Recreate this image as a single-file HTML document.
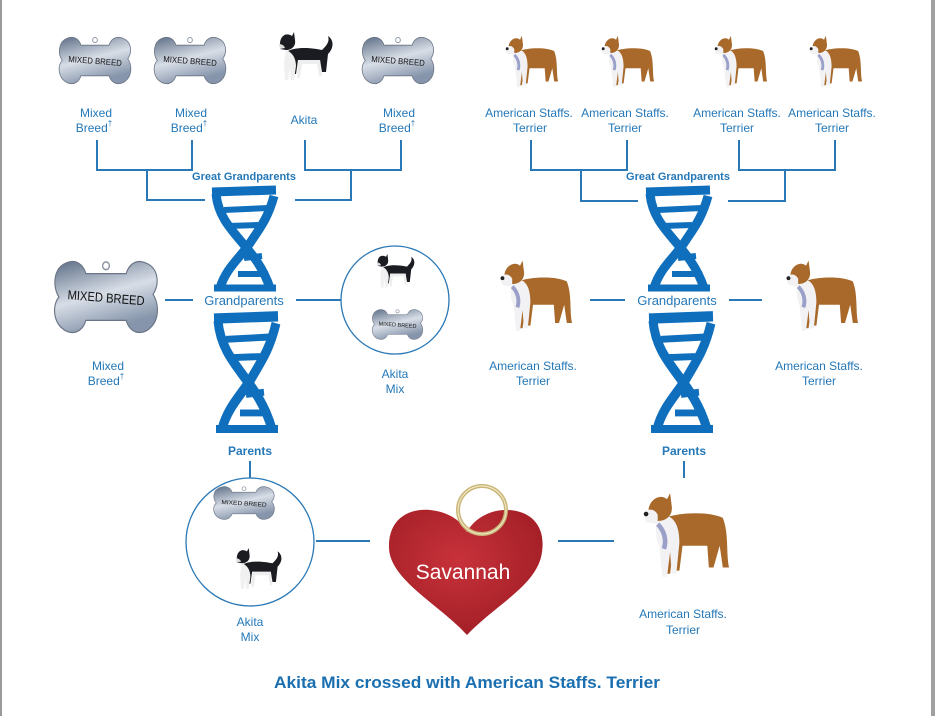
<!DOCTYPE html>
<html><head><meta charset="utf-8"><style>
html,body{margin:0;padding:0;background:#fff;}
svg{display:block;}
text{font-family:"Liberation Sans",sans-serif;}
</style></head><body>
<svg width="935" height="716" viewBox="0 0 935 716" xmlns="http://www.w3.org/2000/svg">
<defs>
<linearGradient id="bg" x1="0" y1="0" x2="0.4" y2="1">
<stop offset="0" stop-color="#5d6e86"/><stop offset="0.55" stop-color="#d8dee7"/><stop offset="1" stop-color="#8695ab"/>
</linearGradient>
<radialGradient id="hg" cx="0.45" cy="0.4" r="0.7">
<stop offset="0" stop-color="#c8323a"/><stop offset="1" stop-color="#9e1c24"/>
</radialGradient>
<g id="bone">
<path d="M14,4 C24,0 30,6 32,12 L68,12 C70,6 76,0 86,4 C97,8 98,20 92,28 C98,36 98,50 86,56 C76,60 70,54 68,48 L32,48 C30,54 24,60 14,56 C2,50 2,36 8,30 C2,22 3,8 14,4 Z" fill="url(#bg)" stroke="#6a7486" stroke-width="1"/>
<circle cx="50" cy="6" r="3" fill="none" stroke="#8a94a4" stroke-width="1.2"/>
<text x="50" y="34" font-size="10" text-anchor="middle" fill="#111" transform="rotate(4 50 32)">MIXED BREED</text>
</g>
<g id="ast">
<path d="M18,18 C30,14 48,14 56,18 C60,28 58,40 60,50 L56,50 L54,36 L50,50 L47,50 L46,36 L30,36 L28,52 L25,52 L24,38 L22,54 L19,54 L18,36 Z" fill="#a8692b"/>
<path d="M16,16 C24,16 28,22 28,34 L26,54 L23,54 L22,40 L20,56 L17,56 L15,36 C12,30 12,22 16,16 Z" fill="#f2f2f4"/>
<path d="M14,22 C18,26 20,32 18,38" stroke="#9aa0c8" stroke-width="3" fill="none"/>
<path d="M8,14 C8,6 16,2 20,6 L22,2 L23,10 C24,16 20,20 14,20 L8,19 Z" fill="#a8692b"/>
<path d="M6,14 C8,12 12,12 14,16 L14,22 L7,21 C5,19 5,16 6,14 Z" fill="#f2f2f4"/>
<circle cx="6.5" cy="15.5" r="1.5" fill="#222"/>
</g>
<g id="akita">
<path d="M14,20 C24,14 40,16 50,18 C54,14 58,10 56,4 C62,8 62,16 56,22 L54,40 L50,40 L48,28 L26,28 L24,42 L20,42 Z" fill="#1a1c22"/>
<path d="M14,18 C20,20 24,26 24,34 L22,48 L19,48 L18,36 L16,48 L13,48 L12,30 Z" fill="#f0f0f0"/>
<path d="M26,28 L48,28 L50,44 L47,44 L45,32 L30,32 L28,46 L25,46 Z" fill="#eee"/>
<path d="M8,12 C8,4 14,0 20,4 L22,0 L23,8 C24,14 20,18 14,18 L8,17 Z" fill="#1a1c22"/>
<path d="M7,12 C9,12 12,13 13,16 L8,17 Z" fill="#ddd"/>
</g>
<g id="dna" fill="none" stroke="#0f6fbd" stroke-linecap="butt">
<path d="M2,4 L66,2" stroke-width="9"/>
<path d="M6,6 C10,45 45,55 60,100" stroke-width="9"/>
<path d="M64,8 C58,30 50,40 40,55 C30,70 16,80 10,100" stroke-width="9"/>
<path d="M14,22 L58,20 M18,38 L48,37 M34,70 L52,68 M28,86 L58,86" stroke-width="6"/>
<path d="M4,100 L66,100" stroke-width="7"/>
</g>
</defs>

<rect x="0" y="0" width="2" height="716" fill="#9a9a9a"/>
<rect x="931" y="0" width="4" height="716" fill="#a0a0a0"/>

<!-- top-left row -->
<use href="#bone" transform="translate(56,35) scale(0.78,0.85)"/>
<use href="#bone" transform="translate(151,35) scale(0.78,0.85)"/>
<use href="#akita" transform="translate(272,32) scale(1.0)"/>
<use href="#bone" transform="translate(359,35) scale(0.78,0.85)"/>

<g font-size="12" fill="#2478b8" text-anchor="middle">
<text x="96" y="117">Mixed</text><text x="94" y="132">Breed<tspan font-size="8" dy="-6">†</tspan></text>
<text x="191" y="117">Mixed</text><text x="189" y="132">Breed<tspan font-size="8" dy="-6">†</tspan></text>
<text x="304" y="124">Akita</text>
<text x="399" y="117">Mixed</text><text x="397" y="132">Breed<tspan font-size="8" dy="-6">†</tspan></text>

<text x="529" y="117">American Staffs.</text><text x="530" y="132">Terrier</text>
<text x="625" y="117">American Staffs.</text><text x="625" y="132">Terrier</text>
<text x="737" y="117">American Staffs.</text><text x="737" y="132">Terrier</text>
<text x="832" y="117">American Staffs.</text><text x="832" y="132">Terrier</text>

<text x="108" y="370">Mixed</text><text x="106" y="385">Breed<tspan font-size="8" dy="-6">†</tspan></text>
<text x="395" y="378">Akita</text><text x="395" y="393">Mix</text>
<text x="533" y="370">American Staffs.</text><text x="533" y="385">Terrier</text>
<text x="819" y="370">American Staffs.</text><text x="819" y="385">Terrier</text>
<text x="250" y="626">Akita</text><text x="250" y="641">Mix</text>
<text x="683" y="618">American Staffs.</text><text x="683" y="634">Terrier</text>
</g>

<!-- top-right dogs -->
<use href="#ast" transform="translate(501,34) scale(0.95)"/>
<use href="#ast" transform="translate(597,34) scale(0.95)"/>
<use href="#ast" transform="translate(710,34) scale(0.95)"/>
<use href="#ast" transform="translate(805,34) scale(0.95)"/>

<!-- connectors -->
<g stroke="#2a78b5" stroke-width="2" fill="none">
<path d="M97,140 V170 H192 V140 M147,170 V200 H205"/>
<path d="M305,140 V170 H401 V140 M351,170 V200 H295"/>
<path d="M531,140 V170 H627 V140 M581,170 V201 H638"/>
<path d="M739,140 V170 H835 V140 M785,170 V201 H728"/>
<path d="M165,300 H193 M296,300 H341"/>
<path d="M590,300 H625 M729,300 H762"/>
<path d="M250,461 V478 M684,461 V478"/>
<path d="M316,541 H370 M558,541 H614"/>
</g>

<g font-size="11" font-weight="bold" fill="#2478b8" text-anchor="middle">
<text x="244" y="180">Great Grandparents</text>
<text x="678" y="180">Great Grandparents</text>
</g>
<g font-size="13" fill="#2478b8" text-anchor="middle">
<text x="244" y="305">Grandparents</text>
<text x="677" y="305">Grandparents</text>
<text x="250" y="455" font-weight="bold" font-size="12">Parents</text>
<text x="684" y="455" font-weight="bold" font-size="12">Parents</text>
</g>

<!-- DNA -->
<use href="#dna" transform="translate(210,188)"/>
<use href="#dna" transform="translate(212,314) scale(1,1.15)"/>
<use href="#dna" transform="translate(644,188)"/>
<use href="#dna" transform="translate(647,314) scale(1,1.15)"/>

<!-- mid-left -->
<use href="#bone" transform="translate(50,258) scale(1.12,1.3)"/>
<circle cx="395" cy="300" r="54" fill="none" stroke="#2a78b5" stroke-width="1.3"/>
<use href="#akita" transform="translate(372,254) scale(0.7)"/>
<use href="#bone" transform="translate(370,308) scale(0.55,0.55)"/>

<!-- mid-right dogs -->
<use href="#ast" transform="translate(494,258) scale(1.3)"/>
<use href="#ast" transform="translate(780,258) scale(1.3)"/>

<!-- bottom -->
<circle cx="250" cy="542" r="64" fill="none" stroke="#2a78b5" stroke-width="1.3"/>
<use href="#bone" transform="translate(211,485) scale(0.66,0.6)"/>
<use href="#akita" transform="translate(230,548) scale(0.85)"/>

<path d="M467,635 C440,605 390,580 389,548 C388,518 410,508 430,510 C450,512 462,522 467,532 C472,522 486,510 506,510 C530,510 546,525 542,552 C538,585 495,605 467,635 Z" fill="url(#hg)"/>
<circle cx="482" cy="510" r="24" fill="none" stroke="#c9b578" stroke-width="4"/>
<circle cx="482" cy="510" r="24" fill="none" stroke="#efe6c0" stroke-width="1.2"/>
<text x="463" y="579" font-size="21" fill="#fff" text-anchor="middle">Savannah</text>

<use href="#ast" transform="translate(636,490) scale(1.55)"/>

<text x="467" y="688" font-size="17" font-weight="bold" fill="#1a6fb0" text-anchor="middle" textLength="386" lengthAdjust="spacingAndGlyphs">Akita Mix crossed with American Staffs. Terrier</text>
</svg>
</body></html>
